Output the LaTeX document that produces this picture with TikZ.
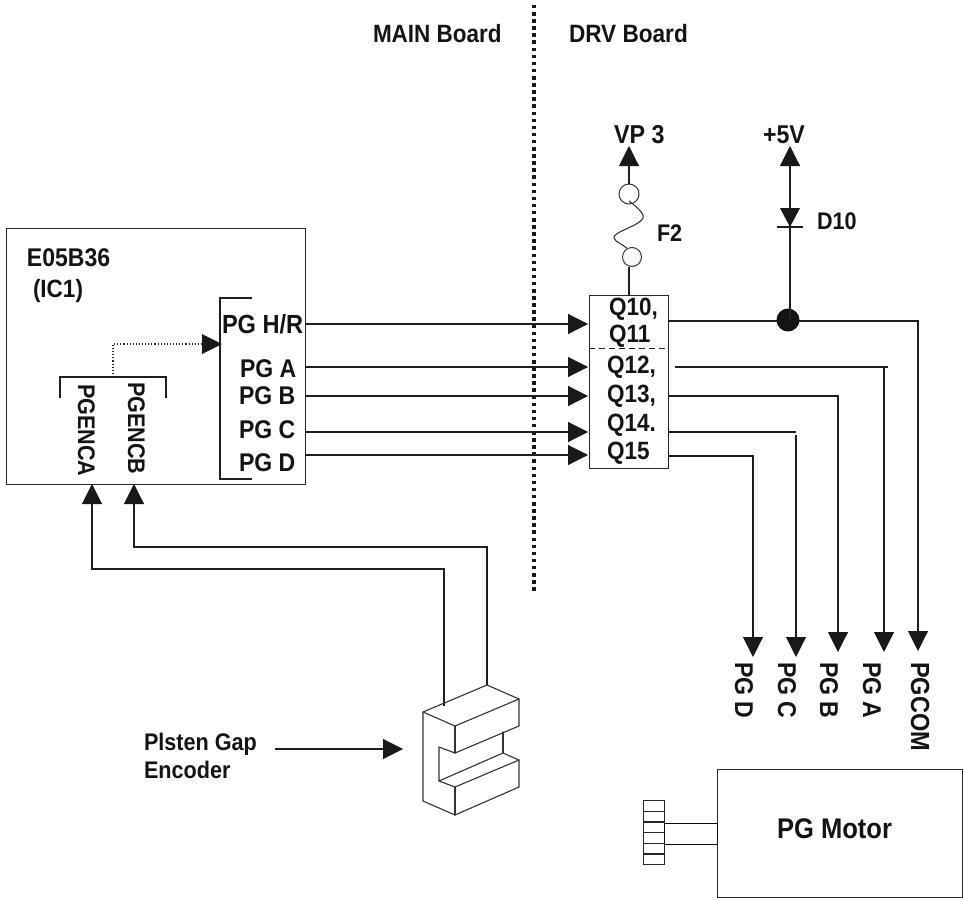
\documentclass[tikz,border=0pt]{standalone}
\usepackage{fontspec}
\setmainfont{Liberation Sans}
\newfontfamily\labfont{Liberation Sans}[FakeStretch=0.9]
\usetikzlibrary{arrows.meta}
\tikzset{
  wire/.style={line width=1.1pt,color=black!88,line join=miter},
  sig/.style={wire,-{Triangle[length=20pt,width=20pt,color=black!90]}},
  fs/.style={font=\labfont\bfseries\fontsize{#1pt}{#1pt}\selectfont},
  lbl/.style={inner sep=0pt,outer sep=0pt,anchor=base west,fs=25,text=black!92},
  vlbl/.style={lbl,rotate=-90},
  enc/.style={line width=1.1pt,color=black!80,line join=round,line cap=round},
  boxs/.style={draw=black!85,line width=1.3pt,inner sep=0pt,anchor=north west},
}
\begin{document}
\begin{tikzpicture}[x=1pt,y=-1pt]
\useasboundingbox (0,0) rectangle (963,899);
% boards
\coordinate (divT) at (534,5); \coordinate (divB) at (534,593);
\draw[line width=3.5pt,dash pattern=on 3.5pt off 3.6pt,black!90] (divT) -- (divB);
\node[lbl] (main) at (373,42) {MAIN Board};
\node[lbl,fs=25.1] (drv) at (569,42) {DRV Board};
% IC
\node[boxs,minimum width=299pt,minimum height=256pt] (ic) at (6,228) {};
\node[lbl,fs=25.6] (ic1) at (27,266) {E05B36};
\node[lbl] (ic2) at (33,297) {(IC1)};
\coordinate (br1) at (252,298); \coordinate (br2) at (220,298); \coordinate (br3) at (220,479); \coordinate (br4) at (252,479);
\draw[wire] (br1) -- (br2) -- (br3) -- (br4);
\coordinate (bl1) at (60,398); \coordinate (bl2) at (60,377); \coordinate (bl3) at (166,377); \coordinate (bl4) at (166,398);
\draw[wire] (bl1) -- (bl2) -- (bl3) -- (bl4);
\coordinate (dotS) at (113,377); \coordinate (dotM) at (203,344); \coordinate (dotE) at (222,344);
\draw[line width=1.1pt,dotted,black!85] (dotS) |- (dotM);
\fill[black!90] (dotE) -- (202,334) -- (202,354) -- cycle;
\node[lbl,fs=26.2] (pghr) at (222,333) {PG H/R};
\node[lbl,fs=25.6] (pga) at (240,377) {PG A};
\node[lbl,fs=25.6] (pgb) at (239,404) {PG B};
\node[lbl,fs=25.6] (pgc) at (239,438) {PG C};
\node[lbl,fs=25.6] (pgd) at (239,471) {PG D};
\node[vlbl,fs=24] (enca) at (78,384) {PGENCA};
\node[vlbl,fs=24] (encb) at (128,382) {PGENCB};
% driver box
\node[boxs,minimum width=79pt,minimum height=173pt] (q) at (589,295) {};
\coordinate (dl) at (589,348); \coordinate (dr) at (668,348);
\draw[wire,line width=0.9pt,dash pattern=on 6pt off 4pt] (dl) -- (dr);
\node[lbl] (q10) at (609,315) {Q10,};
\node[lbl] (q11) at (609,342) {Q11};
\node[lbl] (q12) at (607,373) {Q12,};
\node[lbl] (q13) at (607,402) {Q13,};
\node[lbl] (q14) at (607,431) {Q14.};
\node[lbl] (q15) at (607,459) {Q15};
% inputs
\foreach \n/\ya in {hr/324,a/367,b/396,c/432,d/455}{
  \coordinate (in\n) at (305,\ya); \coordinate (to\n) at (588,\ya);
  \draw[sig] (in\n) -- (to\n);
}
% outputs
\coordinate (o0) at (668,321); \coordinate (t0) at (918,651);
\draw[sig] (o0) -| (t0);
\coordinate (o1) at (675,367); \coordinate (o1e) at (888,367); \coordinate (k1) at (884,367); \coordinate (t1) at (884,652);
\draw[wire] (o1) -- (o1e);
\draw[sig] (k1) -- (t1);
\coordinate (o2) at (668,396); \coordinate (t2) at (838,652);
\draw[sig] (o2) -| (t2);
\coordinate (o3) at (668,432); \coordinate (k3) at (796,432); \coordinate (k3b) at (796,435); \coordinate (t3) at (796,657);
\draw[wire] (o3) -- (k3);
\draw[sig] (k3b) -- (t3);
\coordinate (o4) at (668,456); \coordinate (t4) at (753,657);
\draw[sig] (o4) -| (t4);
\node[vlbl,fs=25.7] (lpgd) at (735,662) {PG D};
\node[vlbl,fs=25.7] (lpgc) at (778,662) {PG C};
\node[vlbl,fs=25.7] (lpgb) at (820,662) {PG B};
\node[vlbl,fs=25.7] (lpga) at (863,662) {PG A};
\node[vlbl,fs=26.2] (lpgcom) at (911,662) {PGCOM};
% VP3 and fuse
\node[circle,draw=black!80,line width=1pt,minimum size=20pt,inner sep=0pt] (f1) at (629,194) {};
\node[circle,draw=black!80,line width=1pt,minimum size=19pt,inner sep=0pt] (f2) at (632,257) {};
\coordinate (vp) at (629,146); \coordinate (qt) at (629,295); \coordinate (f2b) at (629,267);
\draw[sig] (f1.north) -- (vp);
\draw[wire] (f2b) -- (qt);
\draw[line width=1pt,black!85] (629,201) .. controls (634,205) and (645,213) .. (643,218) .. controls (640,226) and (612,232) .. (614,238) .. controls (615,242) and (624,245) .. (f2.120);
\node[lbl,fs=25.9] (vp3) at (614,143) {VP 3};
\node[lbl,fs=24] (fl) at (657,241) {F2};
% +5V
\coordinate (v5) at (790,146); \coordinate (dcat) at (790,227); \coordinate (dan) at (790,208);
\node[circle,fill=black!92,minimum size=23pt,inner sep=0pt] (dot) at (788,320) {};
\draw[sig] (dot.center -| v5) -- (v5);
\fill[black!90] (dcat) -- (780,208) -- (800,208) -- cycle;
\coordinate (b1) at (777,227); \coordinate (b2) at (803,227);
\draw[wire] (b1) -- (b2);
\node[lbl,fs=25.7] (p5) at (763,143) {+5V};
\node[lbl,fs=24] (d10) at (817,229) {D10};
% encoder wires
\coordinate (e1) at (444,706); \coordinate (e2) at (487,685);
\coordinate (ua) at (92,484); \coordinate (ub) at (134,484);
\draw[sig] (e1) -- (444,569) -| (ua);
\draw[sig] (e2) -- (487,547) -| (ub);
% encoder
\draw[enc] (423,712) -- (487,685) -- (519,699) -- (455,726) -- cycle;
\draw[enc] (423,712) -- (423,801) -- (455,815) -- (519,787) -- (519,760) -- (503,753) -- (439,781) -- (439,747) -- (455,753) -- (519,726) -- (519,699);
\draw[enc] (455,726) -- (455,753);
\draw[enc] (503,732) -- (503,753);
\draw[enc] (439,781) -- (455,787) -- (519,760);
\draw[enc] (455,787) -- (455,815);
\node[lbl,fs=24] (pl1) at (144,750) {Plsten Gap};
\node[lbl,fs=24] (pl2) at (144,778) {Encoder};
\coordinate (pa) at (275,749); \coordinate (pb) at (403,749);
\draw[sig] (pa) -- (pb);
% motor
\node[boxs,minimum width=245pt,minimum height=128pt] (mot) at (717,769) {};
\node[lbl,fs=28.4] (mt) at (777,838) {PG Motor};
\foreach \i in {0,...,5}{
  \node[boxs,minimum width=21pt,minimum height=10.67pt] (kn\i) at (643,{800+\i*10.67}) {};
}
\node[boxs,draw=black!95,line width=1.4pt,minimum width=53pt,minimum height=21pt] (shaft) at (664,823) {};
\end{tikzpicture}
\end{document}
